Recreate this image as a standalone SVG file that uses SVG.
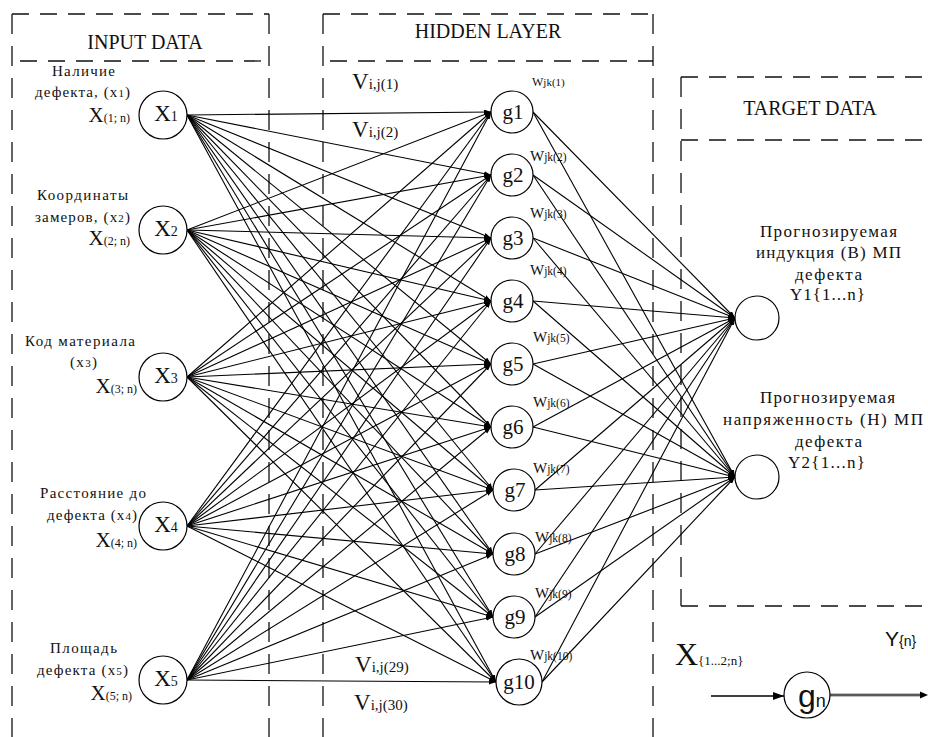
<svg xmlns="http://www.w3.org/2000/svg" width="928" height="737" viewBox="0 0 928 737">
  <defs>
    <style>
      .frame { fill: none; stroke: #111; stroke-width: 1.3; }
      .hd { stroke-dasharray: 17 11; }
      .vd { stroke-dasharray: 20 12; }
      .node { fill: #fff; stroke: #000; stroke-width: 1.2; }
      .edge { stroke: #000; stroke-width: 1.1; fill: none; marker-end: url(#tip); }
      .serif { font-family: "Liberation Serif", "Times New Roman", serif; fill: #111; }
      .head { font-size: 20px; text-anchor: middle; }
      .lbl { font-size: 15px; }
      .big { font-size: 21px; }
      .vv { font-size: 23px; }
      .nx { font-size: 23px; text-anchor: middle; }
      .gl { font-size: 21px; text-anchor: middle; }
      .w { font-size: 15px; }
      .out { font-size: 17px; }
      .sans { font-family: "Liberation Sans", Arial, sans-serif; fill: #111; }
    </style>
    <marker id="tip" markerUnits="userSpaceOnUse" markerWidth="8" markerHeight="6" refX="7" refY="2.5" orient="auto">
      <path d="M0,0 L7,2.5 L0,5 z" fill="#000"/>
    </marker>
    <marker id="bigtip" markerUnits="userSpaceOnUse" markerWidth="12" markerHeight="10" refX="11" refY="4" orient="auto">
      <path d="M0,0 L11,4 L0,8 z" fill="#000"/>
    </marker>
  </defs>

  <!-- layer frames -->
  <g id="frames">
    <line class="frame hd" x1="12" y1="14" x2="269" y2="14"/>
    <line class="frame hd" x1="20" y1="61" x2="269" y2="61"/>
    <line class="frame vd" x1="12" y1="14" x2="12" y2="737"/>
    <line class="frame vd" x1="269" y1="14" x2="269" y2="737"/>

    <line class="frame hd" x1="323" y1="14" x2="653" y2="14"/>
    <line class="frame hd" x1="330" y1="61" x2="653" y2="61"/>
    <line class="frame vd" x1="323" y1="14" x2="323" y2="737"/>
    <line class="frame vd" x1="653" y1="14" x2="653" y2="737"/>

    <line class="frame hd" x1="681" y1="77" x2="928" y2="77"/>
    <line class="frame hd" x1="681" y1="140" x2="928" y2="140"/>
    <line class="frame hd" x1="681" y1="606" x2="928" y2="606"/>
    <line class="frame vd" x1="681" y1="77" x2="681" y2="606"/>
  </g>

  <g id="headers" class="serif head">
    <text x="145" y="49">INPUT DATA</text>
    <text x="488" y="38">HIDDEN LAYER</text>
    <text x="810" y="115">TARGET DATA</text>
  </g>

  <!-- connectors -->
  <g id="connectors">
    <!-- input -> hidden -->
    <path class="edge" d="M187,115 L491,112"/>
    <path class="edge" d="M187,115 L491,175"/>
    <path class="edge" d="M187,115 L491,238"/>
    <path class="edge" d="M187,115 L491,301"/>
    <path class="edge" d="M187,115 L491,364"/>
    <path class="edge" d="M187,115 L491,427"/>
    <path class="edge" d="M187,115 L493,490"/>
    <path class="edge" d="M187,115 L493,554"/>
    <path class="edge" d="M187,115 L493,617"/>
    <path class="edge" d="M187,115 L496,682"/>

    <path class="edge" d="M187,230 L491,112"/>
    <path class="edge" d="M187,230 L491,175"/>
    <path class="edge" d="M187,230 L491,238"/>
    <path class="edge" d="M187,230 L491,301"/>
    <path class="edge" d="M187,230 L491,364"/>
    <path class="edge" d="M187,230 L491,427"/>
    <path class="edge" d="M187,230 L493,490"/>
    <path class="edge" d="M187,230 L493,554"/>
    <path class="edge" d="M187,230 L493,617"/>
    <path class="edge" d="M187,230 L496,682"/>

    <path class="edge" d="M187,377 L491,112"/>
    <path class="edge" d="M187,377 L491,175"/>
    <path class="edge" d="M187,377 L491,238"/>
    <path class="edge" d="M187,377 L491,301"/>
    <path class="edge" d="M187,377 L491,364"/>
    <path class="edge" d="M187,377 L491,427"/>
    <path class="edge" d="M187,377 L493,490"/>
    <path class="edge" d="M187,377 L493,554"/>
    <path class="edge" d="M187,377 L493,617"/>
    <path class="edge" d="M187,377 L496,682"/>

    <path class="edge" d="M187,526 L491,112"/>
    <path class="edge" d="M187,526 L491,175"/>
    <path class="edge" d="M187,526 L491,238"/>
    <path class="edge" d="M187,526 L491,301"/>
    <path class="edge" d="M187,526 L491,364"/>
    <path class="edge" d="M187,526 L491,427"/>
    <path class="edge" d="M187,526 L493,490"/>
    <path class="edge" d="M187,526 L493,554"/>
    <path class="edge" d="M187,526 L493,617"/>
    <path class="edge" d="M187,526 L496,682"/>

    <path class="edge" d="M187,680 L491,112"/>
    <path class="edge" d="M187,680 L491,175"/>
    <path class="edge" d="M187,680 L491,238"/>
    <path class="edge" d="M187,680 L491,301"/>
    <path class="edge" d="M187,680 L491,364"/>
    <path class="edge" d="M187,680 L491,427"/>
    <path class="edge" d="M187,680 L493,490"/>
    <path class="edge" d="M187,680 L493,554"/>
    <path class="edge" d="M187,680 L493,617"/>
    <path class="edge" d="M187,680 L496,682"/>

    <!-- hidden -> target -->
    <path class="edge" d="M533,112 L735,318"/>
    <path class="edge" d="M533,112 L735,477"/>
    <path class="edge" d="M533,175 L735,318"/>
    <path class="edge" d="M533,175 L735,477"/>
    <path class="edge" d="M533,238 L735,318"/>
    <path class="edge" d="M533,238 L735,477"/>
    <path class="edge" d="M533,301 L735,318"/>
    <path class="edge" d="M533,301 L735,477"/>
    <path class="edge" d="M533,364 L735,318"/>
    <path class="edge" d="M533,364 L735,477"/>
    <path class="edge" d="M533,427 L735,318"/>
    <path class="edge" d="M533,427 L735,477"/>
    <path class="edge" d="M535,490 L735,318"/>
    <path class="edge" d="M535,490 L735,477"/>
    <path class="edge" d="M535,554 L735,318"/>
    <path class="edge" d="M535,554 L735,477"/>
    <path class="edge" d="M535,617 L735,318"/>
    <path class="edge" d="M535,617 L735,477"/>
    <path class="edge" d="M542,682 L735,318"/>
    <path class="edge" d="M542,682 L735,477"/>
  </g>

  <!-- weight labels -->
  <g id="weights" class="serif">
    <text x="352" y="89" class="vv">V<tspan font-size="15">i,j(1)</tspan></text>
    <text x="352" y="137" class="vv">V<tspan font-size="15">i,j(2)</tspan></text>
    <text x="355" y="672" class="vv">V<tspan font-size="15">i,j(29)</tspan></text>
    <text x="354" y="710" class="vv">V<tspan font-size="15">i,j(30)</tspan></text>

    <text x="532" y="86" font-size="12">W<tspan font-size="11">jk(1)</tspan></text>
    <text x="530" y="161" class="w">W<tspan font-size="11.5">jk(2)</tspan></text>
    <text x="530" y="218" class="w">W<tspan font-size="11.5">jk(3)</tspan></text>
    <text x="530" y="275" class="w">W<tspan font-size="11.5">jk(4)</tspan></text>
    <text x="533" y="342" class="w">W<tspan font-size="11.5">jk(5)</tspan></text>
    <text x="533" y="407" class="w">W<tspan font-size="11.5">jk(6)</tspan></text>
    <text x="533" y="473" class="w">W<tspan font-size="11.5">jk(7)</tspan></text>
    <text x="535" y="542" class="w">W<tspan font-size="11.5">jk(8)</tspan></text>
    <text x="535" y="598" class="w">W<tspan font-size="11.5">jk(9)</tspan></text>
    <text x="530" y="660" class="w">W<tspan font-size="11.5">jk(10)</tspan></text>
  </g>

  <!-- input nodes -->
  <g id="x1" class="serif">
    <text class="lbl" x="52" y="76" textLength="63">Наличие</text>
    <text class="lbl" x="35" y="97" textLength="95">дефекта, (x<tspan font-size="11">1</tspan>)</text>
    <text x="130" y="122" text-anchor="end" class="big">X<tspan font-size="12">(1; n)</tspan></text>
    <circle class="node" cx="163" cy="115" r="24"/>
    <text class="nx" x="166" y="121">X<tspan font-size="14">1</tspan></text>
  </g>
  <g id="x2" class="serif">
    <text class="lbl" x="37" y="200" textLength="91">Координаты</text>
    <text class="lbl" x="35" y="222" textLength="95">замеров, (x<tspan font-size="11">2</tspan>)</text>
    <text x="130" y="245" text-anchor="end" class="big">X<tspan font-size="12">(2; n)</tspan></text>
    <circle class="node" cx="163" cy="230" r="24"/>
    <text class="nx" x="166" y="236">X<tspan font-size="14">2</tspan></text>
  </g>
  <g id="x3" class="serif">
    <text class="lbl" x="25" y="346" textLength="110">Код материала</text>
    <text class="lbl" x="70" y="367" textLength="27">(x<tspan font-size="11">3</tspan>)</text>
    <text x="137" y="393" text-anchor="end" class="big">X<tspan font-size="12">(3; n)</tspan></text>
    <circle class="node" cx="163" cy="377" r="24"/>
    <text class="nx" x="166" y="383">X<tspan font-size="14">3</tspan></text>
  </g>
  <g id="x4" class="serif">
    <text class="lbl" x="40" y="498" textLength="106">Расстояние до</text>
    <text class="lbl" x="47" y="520" textLength="90">дефекта (x<tspan font-size="11">4</tspan>)</text>
    <text x="137" y="547" text-anchor="end" class="big">X<tspan font-size="12">(4; n)</tspan></text>
    <circle class="node" cx="163" cy="526" r="24"/>
    <text class="nx" x="166" y="532">X<tspan font-size="14">4</tspan></text>
  </g>
  <g id="x5" class="serif">
    <text class="lbl" x="50" y="653" textLength="67">Площадь</text>
    <text class="lbl" x="37" y="675" textLength="91">дефекта (x<tspan font-size="11">5</tspan>)</text>
    <text x="132" y="700" text-anchor="end" class="big">X<tspan font-size="12">(5; n)</tspan></text>
    <circle class="node" cx="163" cy="680" r="24"/>
    <text class="nx" x="166" y="686">X<tspan font-size="14">5</tspan></text>
  </g>

  <!-- hidden nodes -->
  <g id="g1" class="serif"><circle class="node" cx="512" cy="112" r="21"/><text class="gl" x="513" y="119">g1</text></g>
  <g id="g2" class="serif"><circle class="node" cx="512" cy="175" r="21"/><text class="gl" x="513" y="182">g2</text></g>
  <g id="g3" class="serif"><circle class="node" cx="512" cy="238" r="21"/><text class="gl" x="513" y="245">g3</text></g>
  <g id="g4" class="serif"><circle class="node" cx="512" cy="301" r="21"/><text class="gl" x="513" y="308">g4</text></g>
  <g id="g5" class="serif"><circle class="node" cx="512" cy="364" r="21"/><text class="gl" x="513" y="371">g5</text></g>
  <g id="g6" class="serif"><circle class="node" cx="512" cy="427" r="21"/><text class="gl" x="513" y="434">g6</text></g>
  <g id="g7" class="serif"><circle class="node" cx="514" cy="490" r="21"/><text class="gl" x="515" y="497">g7</text></g>
  <g id="g8" class="serif"><circle class="node" cx="514" cy="554" r="21"/><text class="gl" x="515" y="561">g8</text></g>
  <g id="g9" class="serif"><circle class="node" cx="514" cy="617" r="21"/><text class="gl" x="515" y="624">g9</text></g>
  <g id="g10" class="serif"><circle class="node" cx="519" cy="682" r="23"/><text class="gl" x="519" y="689" font-size="20">g10</text></g>

  <!-- target nodes -->
  <g id="y1" class="serif">
    <text class="out" x="760" y="237" textLength="137">Прогнозируемая</text>
    <text class="out" x="756" y="258" textLength="145">индукция (В) МП</text>
    <text class="out" x="795" y="280" textLength="67">дефекта</text>
    <text class="out" x="790" y="300" textLength="75">Y1{1...n}</text>
    <circle class="node" cx="757" cy="318" r="22"/>
  </g>
  <g id="y2" class="serif">
    <text class="out" x="760" y="403" textLength="135">Прогнозируемая</text>
    <text class="out" x="723" y="425" textLength="200">напряженность (Н) МП</text>
    <text class="out" x="795" y="447" textLength="67">дефекта</text>
    <text class="out" x="788" y="468" textLength="77">Y2{1...n}</text>
    <circle class="node" cx="757" cy="477" r="22"/>
  </g>

  <!-- neuron legend -->
  <g id="legend">
    <text class="serif" x="675" y="665" font-size="32">X<tspan font-size="13">{1...2;n}</tspan></text>
    <line x1="711" y1="696" x2="784" y2="696" stroke="#000" stroke-width="1.6" marker-end="url(#bigtip)"/>
    <line x1="830" y1="695" x2="922" y2="695" stroke="#000" stroke-width="2.4"/>
    <line x1="830" y1="695" x2="921" y2="695" stroke="#fff" stroke-width="0.7"/>
    <path d="M920,691.5 L928,695 L920,698.5 z" fill="#000"/>
    <circle class="node" cx="807" cy="695" r="23"/>
    <text class="sans" x="798" y="707" font-size="32">g<tspan font-size="18">n</tspan></text>
    <text class="sans" x="885" y="646" font-size="21">Y<tspan font-size="14">{n}</tspan></text>
  </g>
</svg>
